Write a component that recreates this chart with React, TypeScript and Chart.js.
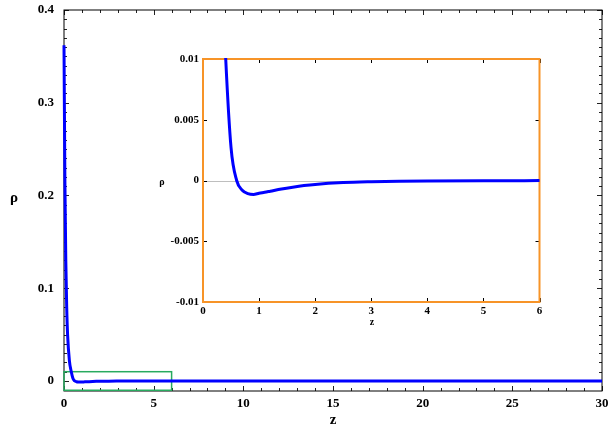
import React, { useEffect, useRef } from 'react';
import { Chart, registerables } from 'chart.js';
Chart.register(...registerables);

// ---- data ----
const zValues = [0, 0.05, 0.1, 0.15, 0.2, 0.3, 0.4, 0.5, 0.6, 0.7, 0.8, 0.9, 1.0, 1.1, 1.2, 1.4, 1.6, 1.8, 2.0, 2.5, 3, 3.5, 4, 5, 6, 8, 10, 15, 20, 25, 30];
const rhoValues = [0.362, 0.215, 0.13, 0.08, 0.05, 0.022, 0.0105, 0.0027, 0.0, -0.0008, -0.00108, -0.00115, -0.00105, -0.00097, -0.00088, -0.0007, -0.00055, -0.00042, -0.00032, -0.00017, -0.0001, -0.00006, -0.00004, -0.00002, -0.00001, 0, 0, 0, 0, 0, 0];

const mainXTicks = [0, 5, 10, 15, 20, 25, 30];
const mainXLabels = ['0', '5', '10', '15', '20', '25', '30'];
const mainYTicks = [0, 0.1, 0.2, 0.3, 0.4];
const mainYLabels = ['0', '0.1', '0.2', '0.3', '0.4'];
const mainXRange = [0, 30];
const mainYRange = [-0.0108, 0.4];

const insetXTicks = [0, 1, 2, 3, 4, 5, 6];
const insetXLabels = ['0', '1', '2', '3', '4', '5', '6'];
const insetYTicks = [-0.01, -0.005, 0, 0.005, 0.01];
const insetYLabels = ['-0.01', '-0.005', '0', '0.005', '0.01'];
const insetXRange = [0, 6];
const insetYRange = [-0.01, 0.01];

const axisTitleX = 'z';
const axisTitleY = 'ρ';

const FONT = "'Liberation Serif', 'Times New Roman', serif";

function labelFor(ticks: number[], labels: string[]) {
  return (v: any) => {
    const i = ticks.findIndex((t) => Math.abs(t - Number(v)) < 1e-9);
    return i >= 0 ? labels[i] : '';
  };
}

function range(a: number, b: number, step: number) {
  const out: number[] = [];
  const n = Math.round((b - a) / step);
  for (let i = 0; i <= n; i++) out.push(a + i * step);
  return out;
}

function framePlugin(cfg: any) {
  return {
    id: 'frame_' + cfg.name,
    beforeDatasetsDraw(chart: any) {
      const { ctx, chartArea: a, scales } = chart;
      const x = scales.x, y = scales.y;
      ctx.save();
      if (cfg.zeroLine) {
        ctx.strokeStyle = cfg.zeroLine;
        ctx.lineWidth = 1;
        const py = Math.round(y.getPixelForValue(0)) + 0.5;
        ctx.beginPath();
        ctx.moveTo(a.left, py);
        ctx.lineTo(a.right, py);
        ctx.stroke();
      }
      ctx.strokeStyle = cfg.tickColor;
      ctx.lineWidth = 1;
      const drawX = (vals: number[], len: number) => {
        vals.forEach((v) => {
          const px = Math.round(x.getPixelForValue(v)) + 0.5;
          ctx.beginPath();
          ctx.moveTo(px, a.bottom);
          ctx.lineTo(px, a.bottom - len);
          ctx.moveTo(px, a.top);
          ctx.lineTo(px, a.top + len);
          ctx.stroke();
        });
      };
      const drawY = (vals: number[], len: number) => {
        vals.forEach((v) => {
          const py = Math.round(y.getPixelForValue(v)) + 0.5;
          ctx.beginPath();
          ctx.moveTo(a.left, py);
          ctx.lineTo(a.left + len, py);
          ctx.moveTo(a.right, py);
          ctx.lineTo(a.right - len, py);
          ctx.stroke();
        });
      };
      if (cfg.minorX) drawX(cfg.minorX, cfg.minorLen);
      if (cfg.minorY) drawY(cfg.minorY, cfg.minorLen);
      drawX(cfg.majorX, cfg.majorLen);
      drawY(cfg.majorY, cfg.majorLen);
      ctx.strokeStyle = cfg.frameColor;
      ctx.lineWidth = cfg.frameWidth;
      ctx.strokeRect(a.left, a.top, a.right - a.left, a.bottom - a.top);
      if (cfg.box) {
        const b = cfg.box;
        const x0 = x.getPixelForValue(b.x[0]);
        const x1 = x.getPixelForValue(b.x[1]);
        const y0 = y.getPixelForValue(b.y[1]);
        const y1 = y.getPixelForValue(b.y[0]);
        ctx.strokeStyle = b.color;
        ctx.lineWidth = 1.5;
        ctx.strokeRect(x0, y0, x1 - x0, y1 - y0);
      }
      ctx.restore();
    },
    afterDraw(chart: any) {
      const { ctx } = chart;
      ctx.save();
      ctx.fillStyle = '#000';
      ctx.textAlign = 'center';
      ctx.textBaseline = 'middle';
      ctx.font = `bold ${cfg.titleSize}px ${FONT}`;
      ctx.fillText(axisTitleX, cfg.xTitle[0], cfg.xTitle[1]);
      ctx.fillText(axisTitleY, cfg.yTitle[0], cfg.yTitle[1]);
      ctx.restore();
    },
  };
}

function makeConfig(p: any) {
  const zeroPad = (s: any) => {
    s.paddingTop = 0;
    s.paddingBottom = 0;
    s.paddingLeft = 0;
    s.paddingRight = 0;
  };
  return {
    type: 'line' as const,
    data: {
      datasets: [
        {
          data: zValues.map((z, i) => ({ x: z, y: rhoValues[i] })),
          borderColor: '#0000ff',
          borderWidth: 3,
          pointRadius: 0,
          fill: false,
          cubicInterpolationMode: 'monotone' as const,
          clip: p.clip,
        },
      ],
    },
    options: {
      animation: false as const,
      responsive: true,
      maintainAspectRatio: false,
      events: [],
      layout: { padding: p.padding },
      plugins: { legend: { display: false }, tooltip: { enabled: false } },
      scales: {
        x: {
          type: 'linear' as const,
          min: p.xRange[0],
          max: p.xRange[1],
          grid: { display: false, drawTicks: false, tickLength: 0 },
          border: { display: false },
          afterFit: (s: any) => { s.height = p.xAxisHeight; zeroPad(s); },
          afterBuildTicks: (s: any) => { s.ticks = p.xTicks.map((v: number) => ({ value: v })); },
          ticks: {
            autoSkip: false,
            maxRotation: 0,
            padding: p.xPad,
            color: '#000',
            font: { family: FONT, weight: 'bold' as const, size: p.fontSize },
            callback: labelFor(p.xTicks, p.xLabels),
          },
        },
        y: {
          type: 'linear' as const,
          min: p.yRange[0],
          max: p.yRange[1],
          grid: { display: false, drawTicks: false, tickLength: 0 },
          border: { display: false },
          afterFit: (s: any) => { s.width = p.yAxisWidth; zeroPad(s); },
          afterBuildTicks: (s: any) => { s.ticks = p.yTicks.map((v: number) => ({ value: v })); },
          ticks: {
            autoSkip: false,
            padding: p.yPad,
            color: '#000',
            font: { family: FONT, weight: 'bold' as const, size: p.fontSize },
            callback: labelFor(p.yTicks, p.yLabels),
          },
        },
      },
    },
    plugins: [p.plugin],
  };
}

export default function App() {
  const mainRef = useRef<HTMLCanvasElement>(null);
  const insetRef = useRef<HTMLCanvasElement>(null);

  useEffect(() => {
    const mainChart = new Chart(
      mainRef.current!,
      makeConfig({
        clip: false,
        padding: { top: 10, right: 9, left: 0, bottom: 0 },
        xRange: mainXRange,
        yRange: mainYRange,
        xTicks: mainXTicks,
        xLabels: mainXLabels,
        yTicks: mainYTicks,
        yLabels: mainYLabels,
        xAxisHeight: 39,
        yAxisWidth: 64,
        xPad: 5,
        yPad: 10,
        fontSize: 13,
        plugin: framePlugin({
          name: 'main',
          tickColor: '#222',
          frameColor: '#000',
          frameWidth: 1,
          majorX: mainXTicks,
          majorY: mainYTicks,
          minorX: range(0, 30, 1),
          minorY: range(0, 0.4, 0.01),
          majorLen: 5,
          minorLen: 3,
          box: { x: insetXRange, y: insetYRange, color: 'rgb(40,170,95)' },
          titleSize: 15,
          xTitle: [333, 420],
          yTitle: [14, 198],
        }),
      }) as any
    );

    const insetChart = new Chart(
      insetRef.current!,
      makeConfig({
        clip: 1,
        padding: { top: 14, right: 10.5, left: 0, bottom: 0 },
        xRange: insetXRange,
        yRange: insetYRange,
        xTicks: insetXTicks,
        xLabels: insetXLabels,
        yTicks: insetYTicks,
        yLabels: insetYLabels,
        xAxisHeight: 33,
        yAxisWidth: 53,
        xPad: 3,
        yPad: 4,
        fontSize: 11,
        plugin: framePlugin({
          name: 'inset',
          tickColor: '#000',
          frameColor: 'rgb(247,148,40)',
          frameWidth: 2,
          zeroLine: 'rgb(190,190,190)',
          majorX: insetXTicks,
          majorY: insetYTicks,
          majorLen: 4,
          minorLen: 2,
          titleSize: 10,
          xTitle: [222, 277],
          yTitle: [12, 137],
        }),
      }) as any
    );

    return () => {
      mainChart.destroy();
      insetChart.destroy();
    };
  }, []);

  return (
    <div style={{ position: 'absolute', left: 0, top: 0, width: 611, height: 430, background: '#fff' }}>
      <div style={{ position: 'absolute', left: 0, top: 0, width: 611, height: 430 }}>
        <canvas ref={mainRef} />
      </div>
      <div style={{ position: 'absolute', left: 150, top: 45, width: 400, height: 290 }}>
        <canvas ref={insetRef} />
      </div>
    </div>
  );
}
